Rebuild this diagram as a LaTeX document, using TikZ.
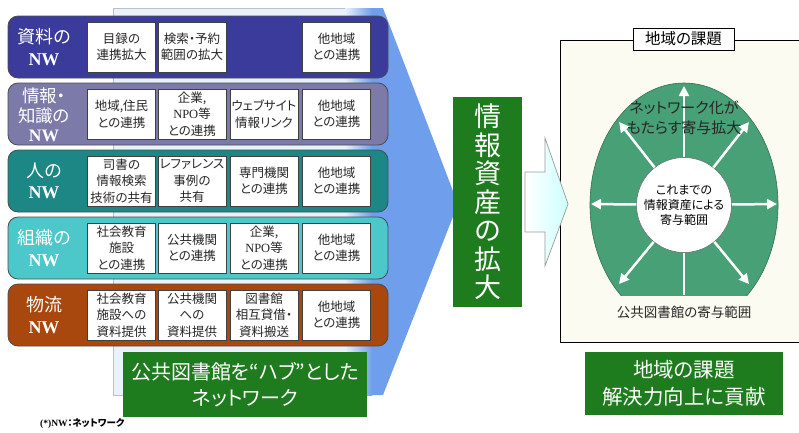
\documentclass[tikz,border=0pt]{standalone}
\usepackage{fontspec}
\setmainfont{Liberation Serif}
\newfontfamily\jp[RawFeature=+palt]{Noto Sans CJK JP}
\usetikzlibrary{arrows.meta}
\definecolor{nwA}{HTML}{3B3B9B}
\definecolor{nwB}{HTML}{7C7AA8}
\definecolor{nwC}{HTML}{1C8784}
\definecolor{nwD}{HTML}{4CC8CB}
\definecolor{nwE}{HTML}{A8480F}
\definecolor{paleblue}{HTML}{E9F1FB}
\definecolor{arrowblue}{HTML}{6F9FEC}
\definecolor{hubgreen}{HTML}{1E7B1E}
\definecolor{ovalgreen}{HTML}{48A076}
\definecolor{cream}{HTML}{FBFBF1}

\begin{document}
\begin{tikzpicture}[x=1pt, y=-1pt,
  band/.style={draw=black!70, rounded corners=10pt, minimum width=380pt, minimum height=62pt, line width=0.8pt, inner sep=0pt},
  nwlabel/.style={text=white, align=center, inner sep=0pt, font=\jp\fontsize{18}{21.5}\selectfont},
  cell/.style={draw=black!75, fill=white, minimum width=68pt, minimum height=50pt, inner sep=0pt, align=center, text=black!85, font=\jp\fontsize{12.5}{16.5}\selectfont},
  greenbox/.style={fill=hubgreen, text=white, align=center, inner sep=0pt},
  spoke/.style={white, line width=2.5pt, -{Triangle[length=10pt,width=10pt]}},
]
  \useasboundingbox (0,0) rectangle (799,432);
  % big arrow behind the networks
  \fill[paleblue] (113,8) rectangle (345,395);
  \fill[left color=paleblue, right color=arrowblue] (345,8) rectangle (372,395);
  \fill[arrowblue] (372,8) -- (383,8) -- (458,204) -- (383,395) -- (372,395) -- cycle;
  \draw[black!25, line width=0.6pt] (345,8) -- (113,8) -- (113,395) -- (345,395);

  % Row 1: 資料のNW
  \node[band, fill=nwA] (band1) at (198,47) {};
  \node[nwlabel] (lab1) at (44,47) {資料の\\{\rmfamily\bfseries NW}};
  \node[cell] (c11) at (121.5,47) {目録の\\連携拡大};
  \node[cell] (c12) at (192,47) {検索・予約\\範囲の拡大};
  \node[cell] (c14) at (336.5,47) {他地域\\との連携};
  % Row 2: 情報・知識のNW
  \node[band, fill=nwB] (band2) at (198,114) {};
  \node[nwlabel, font=\jp\fontsize{17.5}{19.5}\selectfont] (lab2) at (44,115) {情報・\\知識の\\{\rmfamily\bfseries NW}};
  \node[cell] (c21) at (121.5,114) {地域,住民\\との連携};
  \node[cell] (c22) at (192,114) {企業,\\{\rmfamily NPO}等\\との連携};
  \node[cell] (c23) at (264,114) {ウェブサイト\\情報リンク};
  \node[cell] (c24) at (336.5,114) {他地域\\との連携};
  % Row 3: 人のNW
  \node[band, fill=nwC] (band3) at (198,181) {};
  \node[nwlabel] (lab3) at (44,181) {人の\\{\rmfamily\bfseries NW}};
  \node[cell] (c31) at (121.5,181) {司書の\\情報検索\\技術の共有};
  \node[cell] (c32) at (192,181) {レファレンス\\事例の\\共有};
  \node[cell] (c33) at (264,181) {専門機関\\との連携};
  \node[cell] (c34) at (336.5,181) {他地域\\との連携};
  % Row 4: 組織のNW
  \node[band, fill=nwD] (band4) at (198,248) {};
  \node[nwlabel] (lab4) at (44,248) {組織の\\{\rmfamily\bfseries NW}};
  \node[cell] (c41) at (121.5,248) {社会教育\\施設\\との連携};
  \node[cell] (c42) at (192,248) {公共機関\\との連携};
  \node[cell] (c43) at (264,248) {企業,\\{\rmfamily NPO}等\\との連携};
  \node[cell] (c44) at (336.5,248) {他地域\\との連携};
  % Row 5: 物流NW
  \node[band, fill=nwE] (band5) at (198,315) {};
  \node[nwlabel] (lab5) at (44,315) {物流\\{\rmfamily\bfseries NW}};
  \node[cell] (c51) at (121.5,315) {社会教育\\施設への\\資料提供};
  \node[cell] (c52) at (192,315) {公共機関\\への\\資料提供};
  \node[cell] (c53) at (264,315) {図書館\\相互貸借・\\資料搬送};
  \node[cell] (c54) at (336.5,315) {他地域\\との連携};

  \node[greenbox, minimum width=244pt, minimum height=65pt, font=\jp\fontsize{20}{26}\selectfont] (hubnet) at (245,384.5) {公共図書館を“ハブ”とした\\ネットワーク};
  \node[anchor=west, inner sep=0pt, font=\jp\bfseries\fontsize{9.5}{11}\selectfont] (note) at (40,424) {{\rmfamily (*)NW}：ネットワーク};

  % vertical green box
  \node[greenbox, minimum width=69pt, minimum height=210pt, font=\jp\fontsize{27}{28.5}\selectfont] (assets) at (487.5,202) {情\\報\\資\\産\\の\\拡\\大};

  % right frame
  \filldraw[fill=cream, draw=black, line width=0.7pt] (560,40) rectangle (805,342);
  \node[draw=black, fill=white, minimum width=101pt, minimum height=22pt, inner sep=0pt, line width=0.7pt, font=\jp\fontsize{15.5}{18}\selectfont] (task) at (683.5,39) {地域の課題};

  % hollow arrow
  \draw[draw=black!40, line width=0.7pt, left color=white, right color=cyan!20] (525,172) -- (545,172) -- (545,138) -- (568,204) -- (545,266) -- (545,232) -- (525,232) -- cycle;

  % oval of contribution
  \begin{scope}
    \clip (555,45) rectangle (805,295);
    \filldraw[fill=ovalgreen, draw=ovalgreen!70!black, line width=0.6pt] (684,205) ellipse [x radius=94pt, y radius=122pt];
  \end{scope}
  \node[circle, fill=white, draw=black!60, line width=0.5pt, minimum size=95pt, inner sep=0pt, align=center, font=\jp\fontsize{12}{15}\selectfont] (core) at (684,205) {これまでの\\情報資産による\\寄与範囲};
  \coordinate (tipN) at (684,86);
  \coordinate (tipNW) at (619,122);
  \coordinate (tipNE) at (749,122);
  \coordinate (tipW) at (591,204);
  \coordinate (tipE) at (777,204);
  \coordinate (tipSW) at (619,284);
  \coordinate (tipSE) at (749,284);
  \coordinate (tipS) at (684,295);
  \draw[spoke] (core) -- (tipN);
  \draw[spoke] (core) -- (tipNW);
  \draw[spoke] (core) -- (tipNE);
  \draw[spoke] (core) -- (tipW);
  \draw[spoke] (core) -- (tipE);
  \draw[spoke] (core) -- (tipSW);
  \draw[spoke] (core) -- (tipSE);
  \draw[white, line width=2pt] (core) -- (tipS);
  \node[align=center, inner sep=0pt, text=black!85, font=\jp\fontsize{15}{20}\selectfont] (gain) at (684,118) {ネットワーク化が\\もたらす寄与拡大};
  \node[inner sep=0pt, text=black!85, font=\jp\fontsize{13.5}{16}\selectfont] (scope) at (684,312) {公共図書館の寄与範囲};

  \node[greenbox, minimum width=198pt, minimum height=63pt, font=\jp\fontsize{20.5}{27}\selectfont] (solve) at (684,383.5) {地域の課題\\解決力向上に貢献};
\end{tikzpicture}
\end{document}
